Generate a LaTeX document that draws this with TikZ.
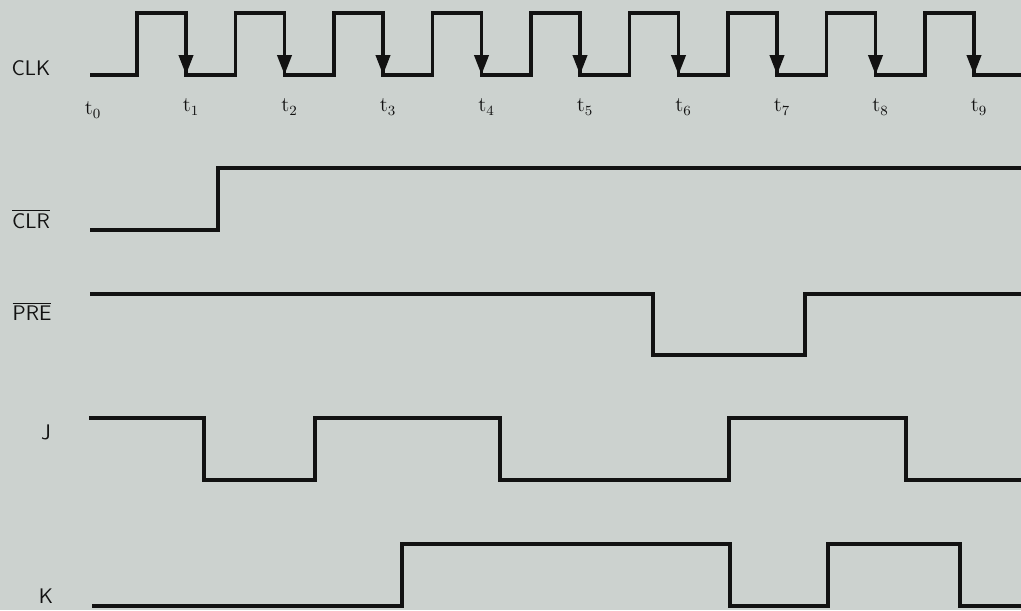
\documentclass[tikz,border=0pt]{standalone}
\usetikzlibrary{arrows.meta}
\definecolor{paper}{RGB}{204, 210, 207}
\definecolor{ink}{RGB}{18, 18, 18}

\begin{document}
\begin{tikzpicture}[
    x=0.02cm, y=-0.02cm,
    wave/.style={line width=2.2pt, color=ink,
                 line join=miter, line cap=butt},
    clkarr/.style={-{Triangle[length=4mm,
                              width=2.8mm]},
                   line width=2.2pt, color=ink},
    siglab/.style={font=\sffamily\large,
                   color=ink, inner sep=0pt},
    tlab/.style={font=\large,
                 color=ink, inner sep=0pt},
]

% -- Paper ------------------------------------
\fill[paper] (0,0) rectangle (1021,610);
\useasboundingbox (0,0) rectangle (1021,610);

% -- Signal names -----------------------------
\node[siglab] (clk) at (31,68)  {CLK};
\node[siglab] (clr) at (31,219) {$\overline{\mbox{CLR}}$};
\node[siglab] (pre) at (32,311) {$\overline{\mbox{PRE}}$};
\node[siglab] (j)   at (46,432) {J};
\node[siglab] (k)   at (46,596) {K};

% -- CLK with falling-edge arrows -------------
\draw[wave] (90,75)
    \foreach \k [evaluate=\k as \f using 186+98.5*\k]
        in {0,...,8} {
        -- (\f-49,75) -- (\f-49,13) -- (\f,13) -- (\f,75)
    } -- (1021,75);
\foreach \k [evaluate=\k as \f using 186+98.5*\k]
    in {0,...,8}
    \draw[clkarr] (\f,13) -- (\f,75);

% -- Time marks -------------------------------
\node[tlab] (t0) at (93,110) {t$_0$};
\foreach \k [evaluate=\k as \f using 191+98.5*(\k-1)]
    in {1,...,9}
    \node[tlab] (t\k) at (\f,107) {t$_{\k}$};

% -- CLR ---------------------------------------
\draw[wave] (90,230) -- (218,230) -- (218,168) -- (1021,168);

% -- PRE ---------------------------------------
\draw[wave] (90,294) -- (653,294) -- (653,355)
    -- (805,355) -- (805,294) -- (1021,294);

% -- J -----------------------------------------
\draw[wave] (89,418) -- (204,418) -- (204,480)
    -- (315,480) -- (315,418) -- (500,418) -- (500,480)
    -- (729,480) -- (729,418) -- (906,418) -- (906,480)
    -- (1021,480);

% -- K -----------------------------------------
\draw[wave] (92,606) -- (402,606) -- (402,544)
    -- (730,544) -- (730,606) -- (828,606) -- (828,544)
    -- (960,544) -- (960,606) -- (1021,606);

\end{tikzpicture}
\end{document}
